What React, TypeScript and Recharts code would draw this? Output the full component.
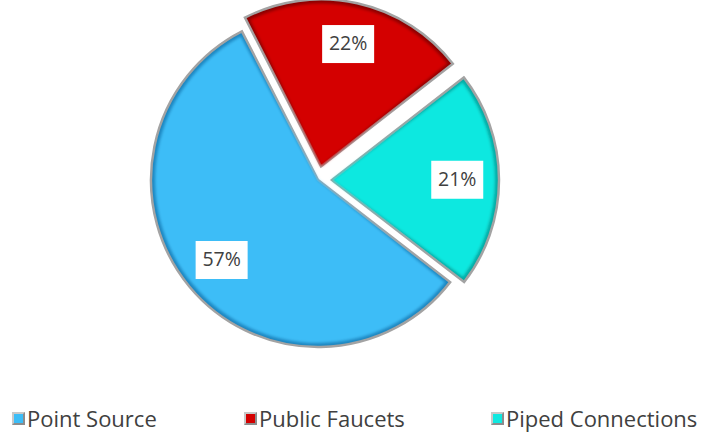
import { PieChart, Pie, Sector, Legend } from "recharts";

const categories = ["Point Source", "Public Faucets", "Piped Connections"];
const shares = [57, 22, 21];

const COLORS = ["#3cbdf7", "#d40000", "#10e8e0"];
const EDGES = ["#1d86c0", "#8a0000", "#07a9a3"];

const data = categories.map((name, i) => ({ name, value: shares[i] }));

const RAD = Math.PI / 180;
const EXPLODE = 14;

function shift(name: string, midAngle: number) {
    const d = categories.indexOf(name) === 0 ? 0 : EXPLODE;
    return { dx: d * Math.cos(-midAngle * RAD), dy: d * Math.sin(-midAngle * RAD) };
}

function SliceShape(props: any) {
    const name = props.payload?.name ?? props.name;
    const i = categories.indexOf(name);
    const { dx, dy } = shift(name, props.midAngle);
    const cx = props.cx + dx;
    const cy = props.cy + dy;
    return (
        <g>
            <Sector
                cx={cx}
                cy={cy}
                innerRadius={0}
                outerRadius={props.outerRadius}
                startAngle={props.startAngle}
                endAngle={props.endAngle}
                fill={EDGES[i]}
                stroke="#a3a3a3"
                strokeWidth={2.5}
            />
            <Sector
                cx={cx}
                cy={cy}
                innerRadius={0}
                outerRadius={props.outerRadius - 4}
                startAngle={props.startAngle - 1.2}
                endAngle={props.endAngle + 1.2}
                fill={COLORS[i]}
                filter="url(#soft)"
            />
        </g>
    );
}

function PctLabel(props: any) {
    const { cx, cy, midAngle, outerRadius, payload, value } = props;
    const { dx, dy } = shift(payload?.name ?? props.name, midAngle);
    const r = outerRadius * 0.75;
    const x = cx + dx + r * Math.cos(-midAngle * RAD);
    const y = cy + dy + r * Math.sin(-midAngle * RAD);
    return (
        <g>
            <rect x={x - 26} y={y - 19} width={52} height={38} fill="#ffffff" />
            <text
                x={x}
                y={y + 1}
                textAnchor="middle"
                dominantBaseline="middle"
                fill="#404040"
                fontSize={19.5}
                fontFamily="'Open Sans', sans-serif"
            >
                {value}%
            </text>
        </g>
    );
}

function LegendBox() {
    const lefts = [12, 244, 491];
    return (
        <div style={{ position: "relative", height: 28, width: 700 }}>
            {categories.map((name, i) => (
                <div
                    key={name}
                    style={{
                        position: "absolute",
                        left: lefts[i],
                        top: 0,
                        display: "flex",
                        alignItems: "center",
                        fontFamily: "'Open Sans', sans-serif",
                        fontSize: 22,
                        lineHeight: "28px",
                        color: "#404040",
                        whiteSpace: "nowrap",
                    }}
                >
                    <span
                        style={{
                            width: 9,
                            height: 9,
                            marginRight: 2,
                            background: COLORS[i],
                            border: "2px solid #8c8c8c",
                            borderLeftColor: "#c8c8c8",
                            borderTopColor: "#c8c8c8",
                        }}
                    />
                    {name}
                </div>
            ))}
        </div>
    );
}

export default function App() {
    return (
        <div style={{ width: 702, height: 433, background: "#fff" }}>
            <style>{"body{margin:0}"}</style>
            <PieChart width={702} height={433} margin={{ top: 0, right: 0, bottom: 0, left: 0 }}>
                <defs>
                    <filter id="soft" x="-10%" y="-10%" width="120%" height="120%">
                        <feGaussianBlur stdDeviation="1.6" />
                    </filter>
                </defs>
                <Pie
                    data={data}
                    dataKey="value"
                    nameKey="name"
                    cx={318}
                    cy={180}
                    outerRadius={167}
                    startAngle={322.3}
                    endAngle={-37.7}
                    stroke="none"
                    shape={SliceShape}
                    label={PctLabel}
                    labelLine={false}
                    isAnimationActive={false}
                />
                <Legend
                    verticalAlign="bottom"
                    content={LegendBox}
                    wrapperStyle={{ left: 0, bottom: "auto", top: 404, height: 28 }}
                />
            </PieChart>
        </div>
    );
}
